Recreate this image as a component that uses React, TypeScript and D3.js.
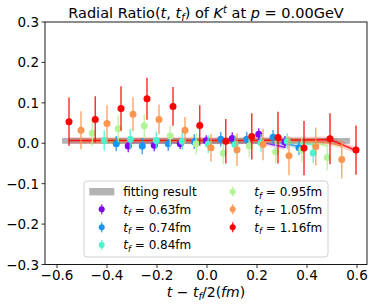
import React from "react";
import * as d3 from "d3";

// t_f values and colours (rainbow colormap)
const tfLabels = ["0.63", "0.74", "0.84", "0.95", "1.05", "1.16"];
const colors = ["#8000ff", "#1996f3", "#4df3ce", "#b2f396", "#ff964f", "#ff0000"];

// x = t - t_f/2 (fm)
const xPurple = [-0.315, -0.211, -0.107, -0.003, 0.101, 0.207, 0.312];
const xBlue = [-0.363, -0.259, -0.155, -0.051, 0.055, 0.159, 0.264, 0.368];
const xCyan = [-0.411, -0.307, -0.203, -0.099, 0.005, 0.112, 0.216, 0.321, 0.425];
const xGreen = [-0.459, -0.355, -0.251, -0.147, -0.043, 0.065, 0.169, 0.275, 0.379, 0.481];
const xOrange = [-0.504, -0.4, -0.296, -0.192, -0.088, 0.016, 0.12, 0.224, 0.328, 0.435, 0.539];
const xRed = [-0.552, -0.447, -0.344, -0.24, -0.136, -0.029, 0.075, 0.179, 0.284, 0.388, 0.492, 0.596];

// ratio values
const yPurple = [-0.007, -0.005, -0.001, 0.006, 0.012, 0.022, 0.003];
const yBlue = [-0.001, -0.007, -0.001, 0.004, 0.01, 0.01, 0.015, -0.011];
const yCyan = [0.007, 0.01, 0.007, 0.005, -0.002, -0.003, 0.001, 0.005, -0.024];
const yGreen = [0.025, 0.036, 0.043, 0.018, -0.001, -0.025, -0.007, -0.021, -0.016, -0.035];
const yOrange = [0.032, 0.049, 0.072, 0.059, 0.032, -0.011, -0.016, -0.003, -0.031, -0.008, -0.04];
const yRed = [0.053, 0.059, 0.086, 0.11, 0.091, 0.044, 0.005, 0.017, 0.014, -0.012, 0.011, -0.017];

// errors
const ePurple = [0.015, 0.015, 0.013, 0.014, 0.015, 0.015, 0.015];
const eBlue = [0.019, 0.02, 0.018, 0.018, 0.018, 0.018, 0.018, 0.018];
const eCyan = [0.025, 0.025, 0.022, 0.022, 0.022, 0.022, 0.022, 0.02, 0.025];
const eGreen = [0.032, 0.033, 0.029, 0.026, 0.027, 0.027, 0.027, 0.029, 0.031, 0.032];
const eOrange = [0.047, 0.045, 0.042, 0.037, 0.033, 0.034, 0.04, 0.039, 0.048, 0.047, 0.047];
const eRed = [0.06, 0.057, 0.055, 0.052, 0.048, 0.05, 0.055, 0.057, 0.064, 0.067, 0.063, 0.061];

// fit curves at the same x
const fPurple = [0.004, 0.004, 0.004, 0.004, 0.004, 0.004, -0.01];
const fBlue = [0.005, 0.005, 0.005, 0.005, 0.005, 0.005, 0.005, -0.008];
const fCyan = [0.005, 0.005, 0.005, 0.005, 0.005, 0.005, 0.005, 0.005, -0.004];
const fGreen = [0.006, 0.006, 0.006, 0.006, 0.006, 0.006, 0.006, 0.006, 0.006, -0.006];
const fOrange = [0.006, 0.006, 0.006, 0.006, 0.006, 0.006, 0.006, 0.006, 0.006, 0.006, -0.006];
const fRed = [0.007, 0.007, 0.007, 0.007, 0.007, 0.007, 0.007, 0.007, 0.008, 0.008, 0.009, -0.018];
const fitErr = [0.006, 0.006, 0.006, 0.006, 0.007, 0.008];

// overall fitting result band
const fitResultX = [-0.58, 0.572];
const fitResultY = [0.006, 0.006];
const fitResultErr = 0.007;

const xTicks = [-0.6, -0.4, -0.2, 0.0, 0.2, 0.4, 0.6];
const yTicks = [-0.3, -0.2, -0.1, 0.0, 0.1, 0.2, 0.3];

const xs = [xPurple, xBlue, xCyan, xGreen, xOrange, xRed];
const ys = [yPurple, yBlue, yCyan, yGreen, yOrange, yRed];
const es = [ePurple, eBlue, eCyan, eGreen, eOrange, eRed];
const fs = [fPurple, fBlue, fCyan, fGreen, fOrange, fRed];

const font = "DejaVu Sans";

function TfLabel(props: { x: number; y: number; tf: string }) {
  const { x, y, tf } = props;
  return (
    <text x={x} y={y} fontFamily={font} fontSize={12} fill="#000">
      <tspan fontStyle="italic">t</tspan>
      <tspan fontStyle="italic" fontSize={8.4} dy={2.5}>f</tspan>
      <tspan dy={-2.5}>{" = " + tf + "fm"}</tspan>
    </text>
  );
}

export default function App() {
  const width = 373;
  const height = 305;
  const left = 45, right = 367, top = 22, bottom = 264.5;

  const x = d3.scaleLinear().domain([-0.648, 0.64]).range([left, right]);
  const y = d3.scaleLinear().domain([-0.3, 0.3]).range([bottom, top]);

  const band = d3
    .area<[number, number, number]>()
    .x(d => x(d[0]))
    .y0(d => y(d[1] - d[2]))
    .y1(d => y(d[1] + d[2]));
  const line = d3
    .line<[number, number]>()
    .x(d => x(d[0]))
    .y(d => y(d[1]));

  const grayData = fitResultX.map((v, i) => [v, fitResultY[i], fitResultErr] as [number, number, number]);

  // legend rows
  const legRows = [191.7, 209.3, 227.3, 245];
  const fmt = (t: number) => d3.format(".1f")(t).replace("-", "\u2212");

  return (
    <svg width={width} height={height} style={{ position: "absolute", left: 0, top: 0, background: "#fff" }}>
      <defs>
        <clipPath id="plotclip">
          <rect x={left} y={top} width={right - left} height={bottom - top} />
        </clipPath>
      </defs>

      {/* title */}
      <text x={(left + right) / 2} y={18} textAnchor="middle" fontFamily={font} fontSize={14.5}>
        <tspan>Radial Ratio(</tspan>
        <tspan fontStyle="italic">t</tspan>
        <tspan>, </tspan>
        <tspan fontStyle="italic">t</tspan>
        <tspan fontStyle="italic" fontSize={10} dy={3}>f</tspan>
        <tspan dy={-3}>) of </tspan>
        <tspan fontStyle="italic">K</tspan>
        <tspan fontStyle="italic" fontSize={10} dy={-5}>t</tspan>
        <tspan dy={5}> at </tspan>
        <tspan fontStyle="italic">p</tspan>
        <tspan> = 0.00GeV</tspan>
      </text>

      <g clipPath="url(#plotclip)">
        {/* fitting result */}
        <path d={band(grayData) || ""} fill="#808080" opacity={0.6} />

        {/* per-t_f fit bands and lines */}
        {fs.map((f, k) => {
          const bd = xs[k].map((v, i) => [v, f[i], fitErr[k]] as [number, number, number]);
          const ld = xs[k].map((v, i) => [v, f[i]] as [number, number]);
          return (
            <g key={"fit" + k}>
              <path d={band(bd) || ""} fill={colors[k]} opacity={0.2} />
              <path d={line(ld) || ""} fill="none" stroke={colors[k]} strokeWidth={1.5} opacity={0.85} />
            </g>
          );
        })}

        {/* data points */}
        {ys.map((yy, k) => (
          <g key={"pts" + k}>
            {yy.map((v, i) => (
              <g key={i}>
                <line
                  x1={x(xs[k][i])}
                  x2={x(xs[k][i])}
                  y1={y(v - es[k][i])}
                  y2={y(v + es[k][i])}
                  stroke={colors[k]}
                  strokeWidth={1.5}
                  opacity={0.8}
                />
                <circle cx={x(xs[k][i])} cy={y(v)} r={3.5} fill={colors[k]} />
              </g>
            ))}
          </g>
        ))}
      </g>

      {/* frame */}
      <rect x={left} y={top} width={right - left} height={bottom - top} fill="none" stroke="#000" strokeWidth={0.9} />

      {/* x axis */}
      {xTicks.map(t => (
        <g key={"xt" + t}>
          <line x1={x(t)} x2={x(t)} y1={bottom} y2={bottom + 3.5} stroke="#000" strokeWidth={0.8} />
          <text x={x(t)} y={bottom + 15.5} textAnchor="middle" fontFamily={font} fontSize={13.5}>
            {fmt(t)}
          </text>
        </g>
      ))}
      {/* y axis */}
      {yTicks.map(t => (
        <g key={"yt" + t}>
          <line x1={left - 3.5} x2={left} y1={y(t)} y2={y(t)} stroke="#000" strokeWidth={0.8} />
          <text x={left - 6} y={y(t) + 5} textAnchor="end" fontFamily={font} fontSize={13.5}>
            {fmt(t)}
          </text>
        </g>
      ))}

      {/* x label */}
      <text x={(left + right) / 2} y={297} textAnchor="middle" fontFamily={font} fontSize={14}>
        <tspan fontStyle="italic">t</tspan>
        <tspan>{" \u2212 "}</tspan>
        <tspan fontStyle="italic">t</tspan>
        <tspan fontStyle="italic" fontSize={10} dy={3}>f</tspan>
        <tspan dy={-3}>/2(</tspan>
        <tspan fontStyle="italic">fm</tspan>
        <tspan>)</tspan>
      </text>

      {/* legend */}
      <rect x={84} y={181} width={244} height={76} rx={3} fill="#fff" fillOpacity={0.8} stroke="#d0d0d0" strokeWidth={1} />
      <rect x={89.3} y={legRows[0] - 3.7} width={25} height={7.4} fill="#808080" opacity={0.6} />
      <text x={123.3} y={legRows[0] + 4.3} fontFamily={font} fontSize={12}>fitting result</text>
      {[0, 1, 2].map(k => (
        <g key={"l1" + k}>
          <line x1={101.7} x2={101.7} y1={legRows[k + 1] - 5} y2={legRows[k + 1] + 5} stroke={colors[k]} strokeWidth={1.5} opacity={0.8} />
          <circle cx={101.7} cy={legRows[k + 1]} r={3} fill={colors[k]} />
          <TfLabel x={123.3} y={legRows[k + 1] + 4.3} tf={tfLabels[k]} />
        </g>
      ))}
      {[3, 4, 5].map((k, j) => (
        <g key={"l2" + k}>
          <line x1={232.7} x2={232.7} y1={legRows[j] - 5} y2={legRows[j] + 5} stroke={colors[k]} strokeWidth={1.5} opacity={0.8} />
          <circle cx={232.7} cy={legRows[j]} r={3} fill={colors[k]} />
          <TfLabel x={254.3} y={legRows[j] + 4.3} tf={tfLabels[k]} />
        </g>
      ))}
    </svg>
  );
}
